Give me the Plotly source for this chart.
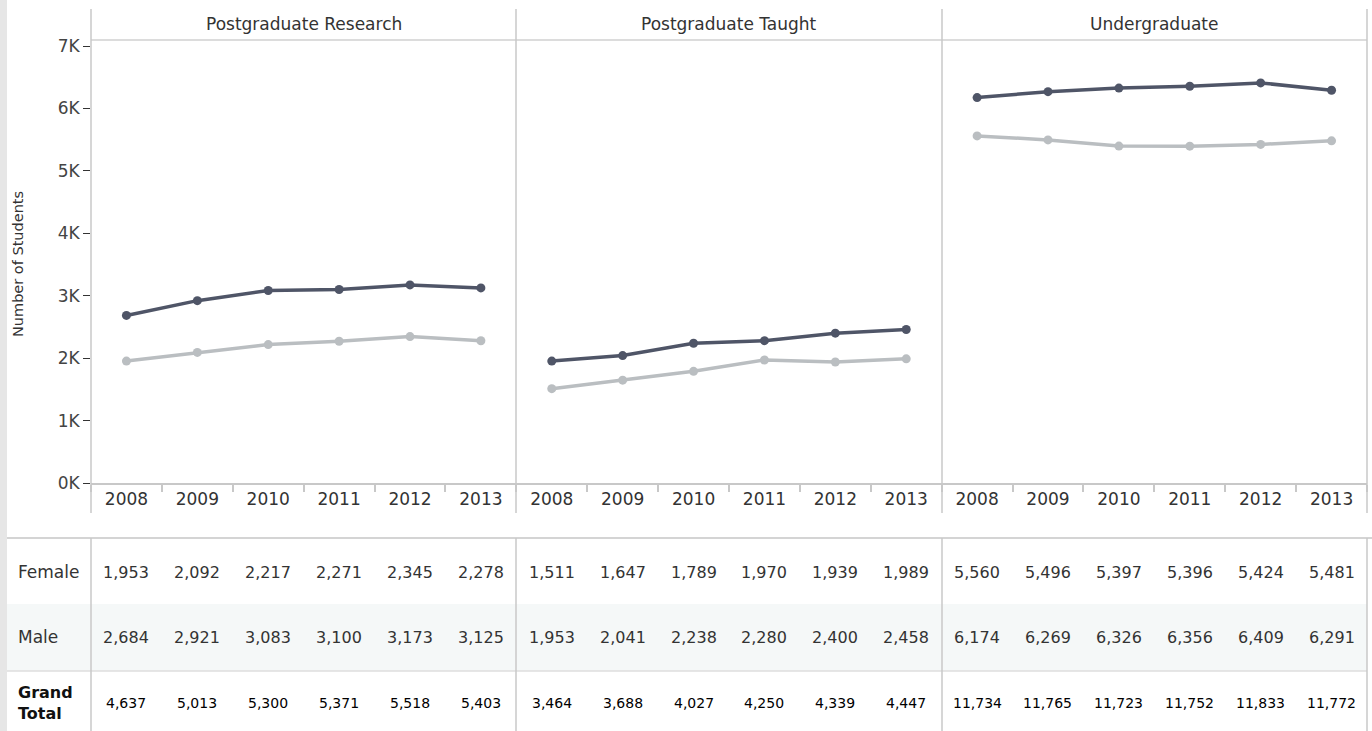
import plotly.graph_objects as go

# ---------------- data ----------------
years = ["2008", "2009", "2010", "2011", "2012", "2013"]
levels = ["Postgraduate Research", "Postgraduate Taught", "Undergraduate"]

female_pgr = [1953, 2092, 2217, 2271, 2345, 2278]
male_pgr = [2684, 2921, 3083, 3100, 3173, 3125]
female_pgt = [1511, 1647, 1789, 1970, 1939, 1989]
male_pgt = [1953, 2041, 2238, 2280, 2400, 2458]
female_ug = [5560, 5496, 5397, 5396, 5424, 5481]
male_ug = [6174, 6269, 6326, 6356, 6409, 6291]

y_tick_vals = [0, 1000, 2000, 3000, 4000, 5000, 6000, 7000]
y_tick_text = ["0K", "1K", "2K", "3K", "4K", "5K", "6K", "7K"]
row_labels = ["Female", "Male"]
total_label = "Grand<br>Total"
y_title = "Number of Students"

female_sets = [female_pgr, female_pgt, female_ug]
male_sets = [male_pgr, male_pgt, male_ug]

# ---------------- style ----------------
FONT = "DejaVu Sans"
MALE_C = "#4f5567"
FEMALE_C = "#babec1"
SEP_C = "#c8c8c8"
TXT = "#333333"

W, H = 1372, 731
ML, MR, MT, MB = 91, 5, 40, 248
PW = W - ML - MR
PH = H - MT - MB


def py(pix):
    """pixel row -> paper y"""
    return (H - MB - pix) / PH


def px(pix):
    """pixel column -> paper x"""
    return (pix - ML) / PW


fig = go.Figure()
xaxes = ["x", "x2", "x3"]
for i in range(3):
    fig.add_trace(go.Scatter(
        x=years, y=female_sets[i], xaxis=xaxes[i], yaxis="y",
        mode="lines+markers", line=dict(color=FEMALE_C, width=3.5),
        marker=dict(color=FEMALE_C, size=9), showlegend=False, name="Female"))
    fig.add_trace(go.Scatter(
        x=years, y=male_sets[i], xaxis=xaxes[i], yaxis="y",
        mode="lines+markers", line=dict(color=MALE_C, width=3.5),
        marker=dict(color=MALE_C, size=9), showlegend=False, name="Male"))

ymax = 7000 * PH / (PH - 6)
layout = dict(
    width=W, height=H,
    margin=dict(l=ML, r=MR, t=MT, b=MB, pad=0),
    paper_bgcolor="white", plot_bgcolor="white",
    font=dict(family=FONT, color=TXT),
    yaxis=dict(range=[0, ymax], tickvals=y_tick_vals, ticktext=y_tick_text,
               showgrid=False, zeroline=False, showline=False,
               ticks="outside", ticklen=7, tickcolor="#333333", tickwidth=1,
               tickfont=dict(size=17, color="#444444", family=FONT)),
)
domains = [[0, 1 / 3], [1 / 3, 2 / 3], [2 / 3, 1]]
for i, d in enumerate(domains):
    key = "xaxis" if i == 0 else f"xaxis{i+1}"
    layout[key] = dict(
        domain=d, type="category", range=[-0.5, 5.5], anchor="y",
        showgrid=False, zeroline=False, showline=True, linecolor=SEP_C, linewidth=1.5,
        ticks="outside", tickson="boundaries", ticklen=7, tickcolor=SEP_C, tickwidth=1.5,
        tickfont=dict(size=17, color=TXT, family=FONT))
fig.update_layout(**layout)

shapes = []
# left grey strip
shapes.append(dict(type="rect", xref="paper", yref="paper", x0=px(0), x1=px(7),
                   y0=py(H), y1=py(0), fillcolor="#e6e6e6", line=dict(width=0), layer="below"))
# male row band
shapes.append(dict(type="rect", xref="paper", yref="paper", x0=px(7), x1=px(1367),
                   y0=py(671), y1=py(604), fillcolor="#f5f8f8", line=dict(width=0), layer="below"))
# header line
shapes.append(dict(type="line", xref="paper", yref="paper", x0=px(91), x1=px(1367),
                   y0=py(40), y1=py(40), line=dict(color="#d0d0d0", width=1.5)))
# table lines
shapes.append(dict(type="line", xref="paper", yref="paper", x0=px(7), x1=px(1372),
                   y0=py(538), y1=py(538), line=dict(color="#d4d4d4", width=2)))
shapes.append(dict(type="line", xref="paper", yref="paper", x0=px(7), x1=px(1367),
                   y0=py(671), y1=py(671), line=dict(color="#dedede", width=1.5)))
# vertical separators
for xp in [91, 516, 942, 1367]:
    shapes.append(dict(type="line", xref="paper", yref="paper", x0=px(xp), x1=px(xp),
                       y0=py(513), y1=py(9), line=dict(color=SEP_C, width=1.5)))
    shapes.append(dict(type="line", xref="paper", yref="paper", x0=px(xp), x1=px(xp),
                       y0=py(H), y1=py(538), line=dict(color=SEP_C, width=1.5)))
fig.update_layout(shapes=shapes)

ann = []
# panel titles
for i, lv in enumerate(levels):
    ann.append(dict(text=lv, xref="paper", yref="paper",
                    x=(domains[i][0] + domains[i][1]) / 2, y=py(24),
                    xanchor="center", yanchor="middle", showarrow=False,
                    font=dict(size=17, color=TXT, family=FONT)))
# y-axis title
ann.append(dict(text=y_title, xref="paper", yref="paper", x=px(18), y=py(264),
                textangle=-90, xanchor="center", yanchor="middle", showarrow=False,
                font=dict(size=14.5, color=TXT, family=FONT)))
# row labels
row_y = [py(572), py(637)]
for lab, yy in zip(row_labels, row_y):
    ann.append(dict(text=lab, xref="paper", yref="paper", x=px(16), y=yy,
                    xanchor="left", yanchor="middle", showarrow=False,
                    font=dict(size=17, color=TXT, family=FONT)))
ann.append(dict(text=total_label, xref="paper", yref="paper", x=px(16), y=py(703),
                xanchor="left", yanchor="middle", showarrow=False, align="left",
                font=dict(size=16, color="#111111", family=FONT, weight="bold")))
# table values (x given as category index on each panel's axis)
for i in range(3):
    xr = xaxes[i]
    for j, yr in enumerate(years):
        f = female_sets[i][j]
        m = male_sets[i][j]
        t = f + m
        for val, yy, sz, col in [(f, py(572), 16, TXT), (m, py(637), 16, TXT),
                                 (t, py(703), 14, "#000000")]:
            ann.append(dict(text=f"{val:,}", xref=xr, yref="paper", x=j, y=yy,
                            xanchor="center", yanchor="middle", showarrow=False,
                            font=dict(size=sz, color=col, family=FONT)))
fig.update_layout(annotations=ann)

fig.write_html("out.html", config={"displayModeBar": False},
               post_script="document.body.style.margin='0';")
